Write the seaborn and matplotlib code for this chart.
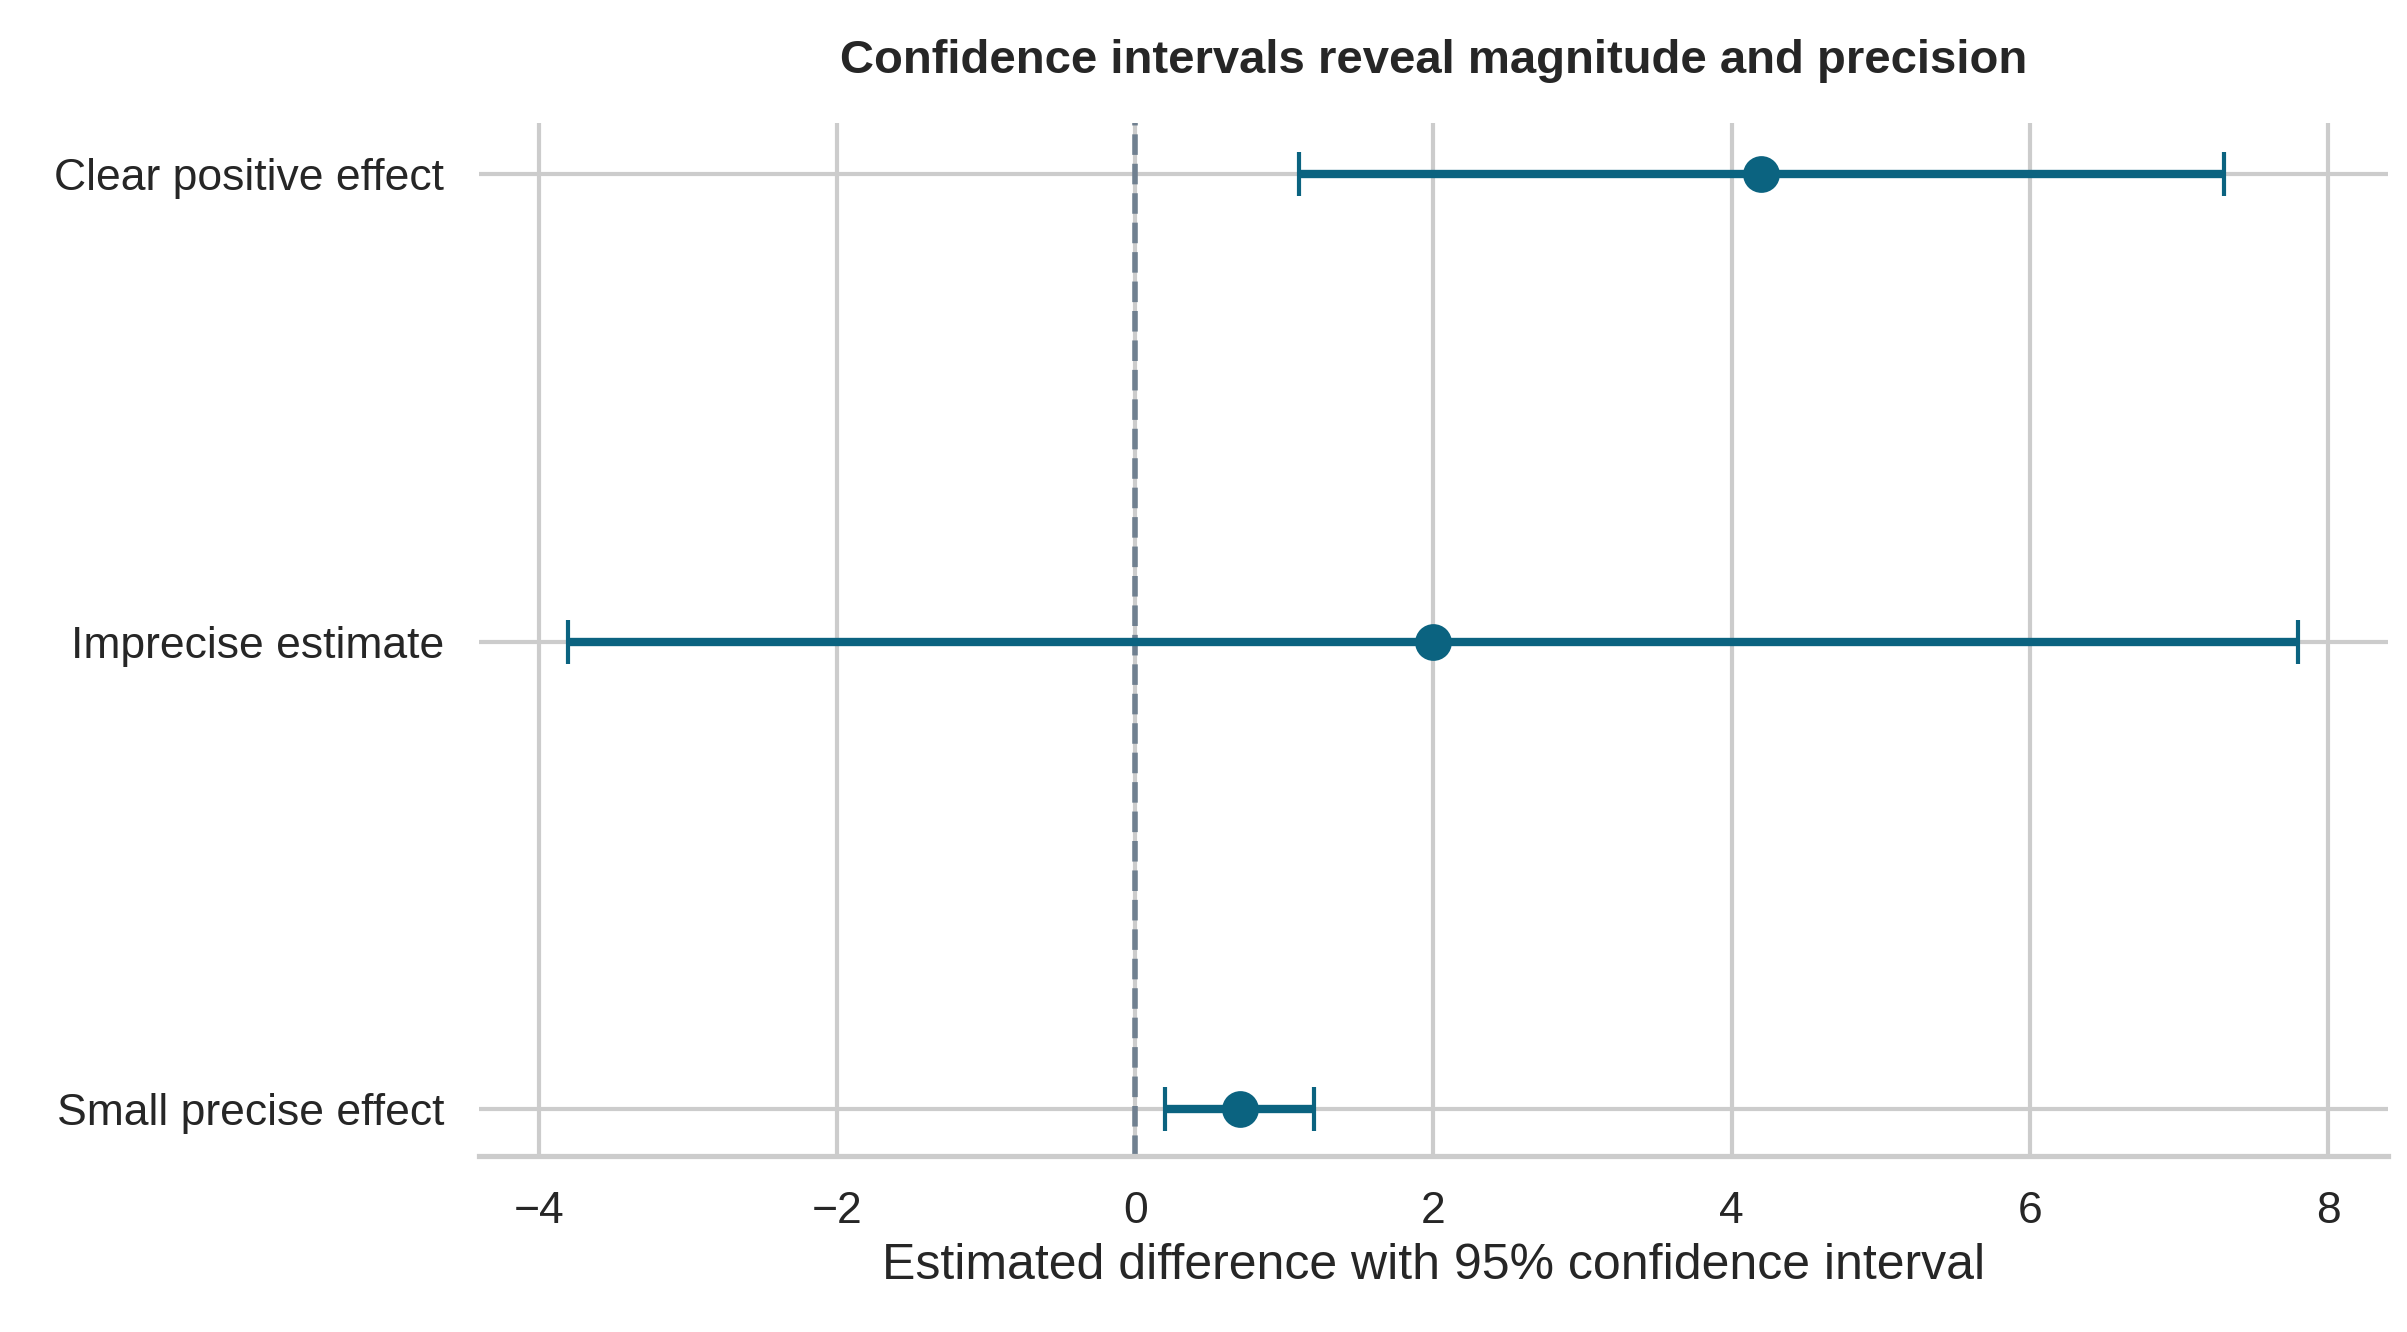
import matplotlib.pyplot as plt
import numpy as np
import pandas as pd
import seaborn as sns

# Data
labels = ['Clear positive effect', 'Imprecise estimate', 'Small precise effect']
estimates = [4.2, 2.0, 0.7]
ci_low = [1.1, -3.8, 0.2]
ci_high = [7.3, 7.8, 1.2]

df = pd.DataFrame({'label': labels, 'est': estimates, 'lo': ci_low, 'hi': ci_high})

sns.set_theme(style='whitegrid', context='talk')
plt.rcParams['font.family'] = ['Liberation Sans', 'DejaVu Sans']

fig = plt.figure(figsize=(12.035, 6.66), dpi=200)
ax = fig.add_axes([0.199, 0.132, 0.793, 0.776])

color = '#0b6380'
ypos = np.arange(len(df))
err = [df['est'] - df['lo'], df['hi'] - df['est']]
ax.errorbar(df['est'], ypos, xerr=err, fmt='none', ecolor=color,
            elinewidth=3, capsize=8, capthick=1.5, zorder=3)
sns.scatterplot(x=df['est'], y=ypos, color=color, s=150, edgecolor=color,
                ax=ax, zorder=4, legend=False)

ax.axvline(0, color='slategray', linestyle='--', linewidth=2, zorder=2)

ax.set_yticks(ypos)
ax.set_yticklabels(df['label'], fontsize=16)
ax.set_ylim(2.1, -0.11)
ax.set_xlim(-4.4, 8.4)
ax.set_xticks([-4, -2, 0, 2, 4, 6, 8])
ax.tick_params(axis='x', labelsize=16)
ax.set_xlabel('Estimated difference with 95% confidence interval', fontsize=18)
ax.set_ylabel('')
ax.set_title('Confidence intervals reveal magnitude and precision',
             fontsize=17, fontweight='bold', pad=18)

sns.despine(ax=ax, left=True)
ax.spines['bottom'].set_color('#cccccc')

fig.savefig('out.png', dpi=200)
plt.close(fig)
